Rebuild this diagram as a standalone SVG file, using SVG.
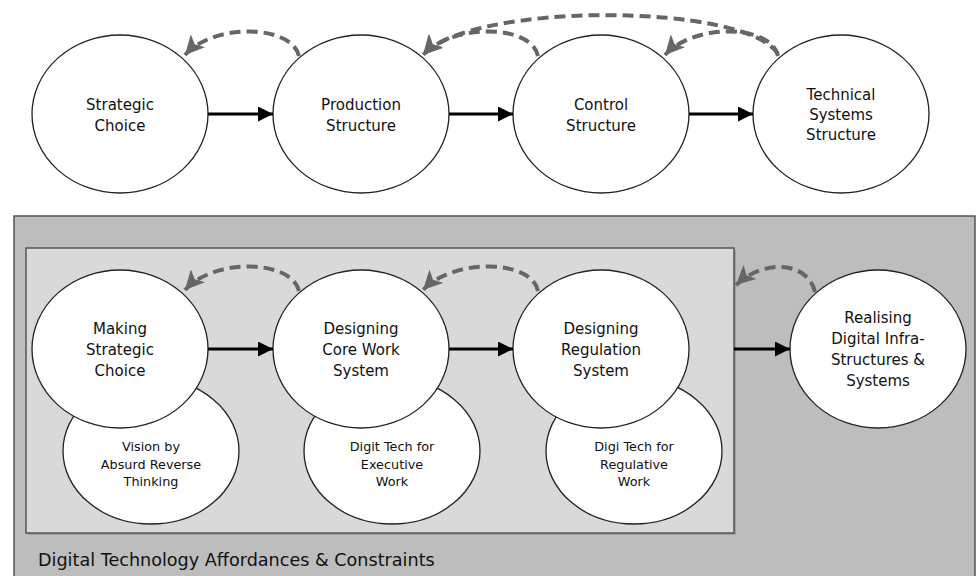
<svg xmlns="http://www.w3.org/2000/svg" width="979" height="576" viewBox="0 0 979 576">
<defs>
<marker id="solid" viewBox="0 0 10 10" refX="10" refY="5" markerWidth="5.3" markerHeight="5" markerUnits="strokeWidth" orient="auto">
<path d="M0,0 L10,5 L0,10 z" fill="#000"/>
</marker>
<marker id="dash" viewBox="0 0 10 10" refX="10" refY="5" markerWidth="4.8" markerHeight="4.8" markerUnits="strokeWidth" orient="auto">
<path d="M0,0 L10,5 L0,10 L2.5,5 z" fill="#666"/>
</marker>
<style>
.node{fill:#fff;stroke:#222;stroke-width:1.3}
.big{font-family:"DejaVu Sans",Verdana,sans-serif;font-size:15px;fill:#111;text-anchor:middle}
.small{font-family:"DejaVu Sans",Verdana,sans-serif;font-size:12.8px;fill:#111;text-anchor:middle}
.flow{stroke:#000;stroke-width:3;fill:none;marker-end:url(#solid)}
.fb{stroke:#666;stroke-width:4;fill:none;stroke-dasharray:11 6;marker-end:url(#dash)}
</style>
</defs>

<g id="outer-box">
<rect x="14" y="216" width="961" height="370" fill="#bdbdbd" stroke="#555" stroke-width="1.5"/>
<text x="38" y="566" font-family="DejaVu Sans,Verdana,sans-serif" font-size="17.6" fill="#111">Digital Technology Affordances &amp; Constraints</text>
</g>
<g id="inner-box">
<rect x="28" y="250" width="708" height="285" fill="#8a8a8a" opacity="0.6"/>
<rect x="26" y="248" width="708" height="285" fill="#d9d9d9" stroke="#555" stroke-width="1.5"/>
</g>

<g id="n-strategic-choice">
<ellipse class="node" cx="120" cy="114" rx="88" ry="79"/>
<text class="big" x="120" y="110">Strategic</text>
<text class="big" x="120" y="131">Choice</text>
</g>
<g id="n-production-structure">
<ellipse class="node" cx="361" cy="114" rx="88" ry="79"/>
<text class="big" x="361" y="110">Production</text>
<text class="big" x="361" y="131">Structure</text>
</g>
<g id="n-control-structure">
<ellipse class="node" cx="601" cy="114" rx="88" ry="79"/>
<text class="big" x="601" y="110">Control</text>
<text class="big" x="601" y="131">Structure</text>
</g>
<g id="n-technical-systems-structure">
<ellipse class="node" cx="841" cy="114" rx="88" ry="79"/>
<text class="big" x="841" y="100">Technical</text>
<text class="big" x="841" y="120">Systems</text>
<text class="big" x="841" y="140">Structure</text>
</g>

<g id="n-vision">
<ellipse class="node" cx="151" cy="451" rx="88" ry="73"/>
<text class="small" x="151" y="451">Vision by</text>
<text class="small" x="151" y="469">Absurd Reverse</text>
<text class="small" x="151" y="486">Thinking</text>
</g>
<g id="n-digit-tech-executive">
<ellipse class="node" cx="392" cy="451" rx="88" ry="73"/>
<text class="small" x="392" y="451">Digit Tech for</text>
<text class="small" x="392" y="469">Executive</text>
<text class="small" x="392" y="486">Work</text>
</g>
<g id="n-digi-tech-regulative">
<ellipse class="node" cx="634" cy="451" rx="88" ry="73"/>
<text class="small" x="634" y="451">Digi Tech for</text>
<text class="small" x="634" y="469">Regulative</text>
<text class="small" x="634" y="486">Work</text>
</g>

<g id="n-making-strategic-choice">
<ellipse class="node" cx="120" cy="349" rx="88" ry="79"/>
<text class="big" x="120" y="334">Making</text>
<text class="big" x="120" y="355">Strategic</text>
<text class="big" x="120" y="376">Choice</text>
</g>
<g id="n-designing-core-work-system">
<ellipse class="node" cx="361" cy="349" rx="88" ry="79"/>
<text class="big" x="361" y="334">Designing</text>
<text class="big" x="361" y="355">Core Work</text>
<text class="big" x="361" y="376">System</text>
</g>
<g id="n-designing-regulation-system">
<ellipse class="node" cx="601" cy="349" rx="88" ry="79"/>
<text class="big" x="601" y="334">Designing</text>
<text class="big" x="601" y="355">Regulation</text>
<text class="big" x="601" y="376">System</text>
</g>
<g id="n-realising">
<ellipse class="node" cx="878" cy="349" rx="88" ry="79"/>
<text class="big" x="878" y="323">Realising</text>
<text class="big" x="878" y="344">Digital Infra-</text>
<text class="big" x="878" y="365">Structures &amp;</text>
<text class="big" x="878" y="386">Systems</text>
</g>

<g id="connectors">
<path class="flow" d="M208,114 L273,114"/>
<path class="flow" d="M449,114 L513,114"/>
<path class="flow" d="M689,114 L753,114"/>
<path class="fb" d="M299,56 C292,25 215,22 185,55"/>
<path class="fb" d="M538,56 C532,25 455,22 423,55"/>
<path class="fb" d="M778,56 C772,25 695,22 665,55"/>
<path class="fb" d="M778,54 C745,2 470,2 423,55"/>
<path class="flow" d="M208,349 L273,349"/>
<path class="flow" d="M449,349 L513,349"/>
<path class="flow" d="M734,349 L790,349"/>
<path class="fb" d="M299,291 C292,260 215,257 185,290"/>
<path class="fb" d="M538,291 C532,260 455,257 423,290"/>
<path class="fb" d="M815,292 C808,262 765,258 736,285"/>
</g>
</svg>
